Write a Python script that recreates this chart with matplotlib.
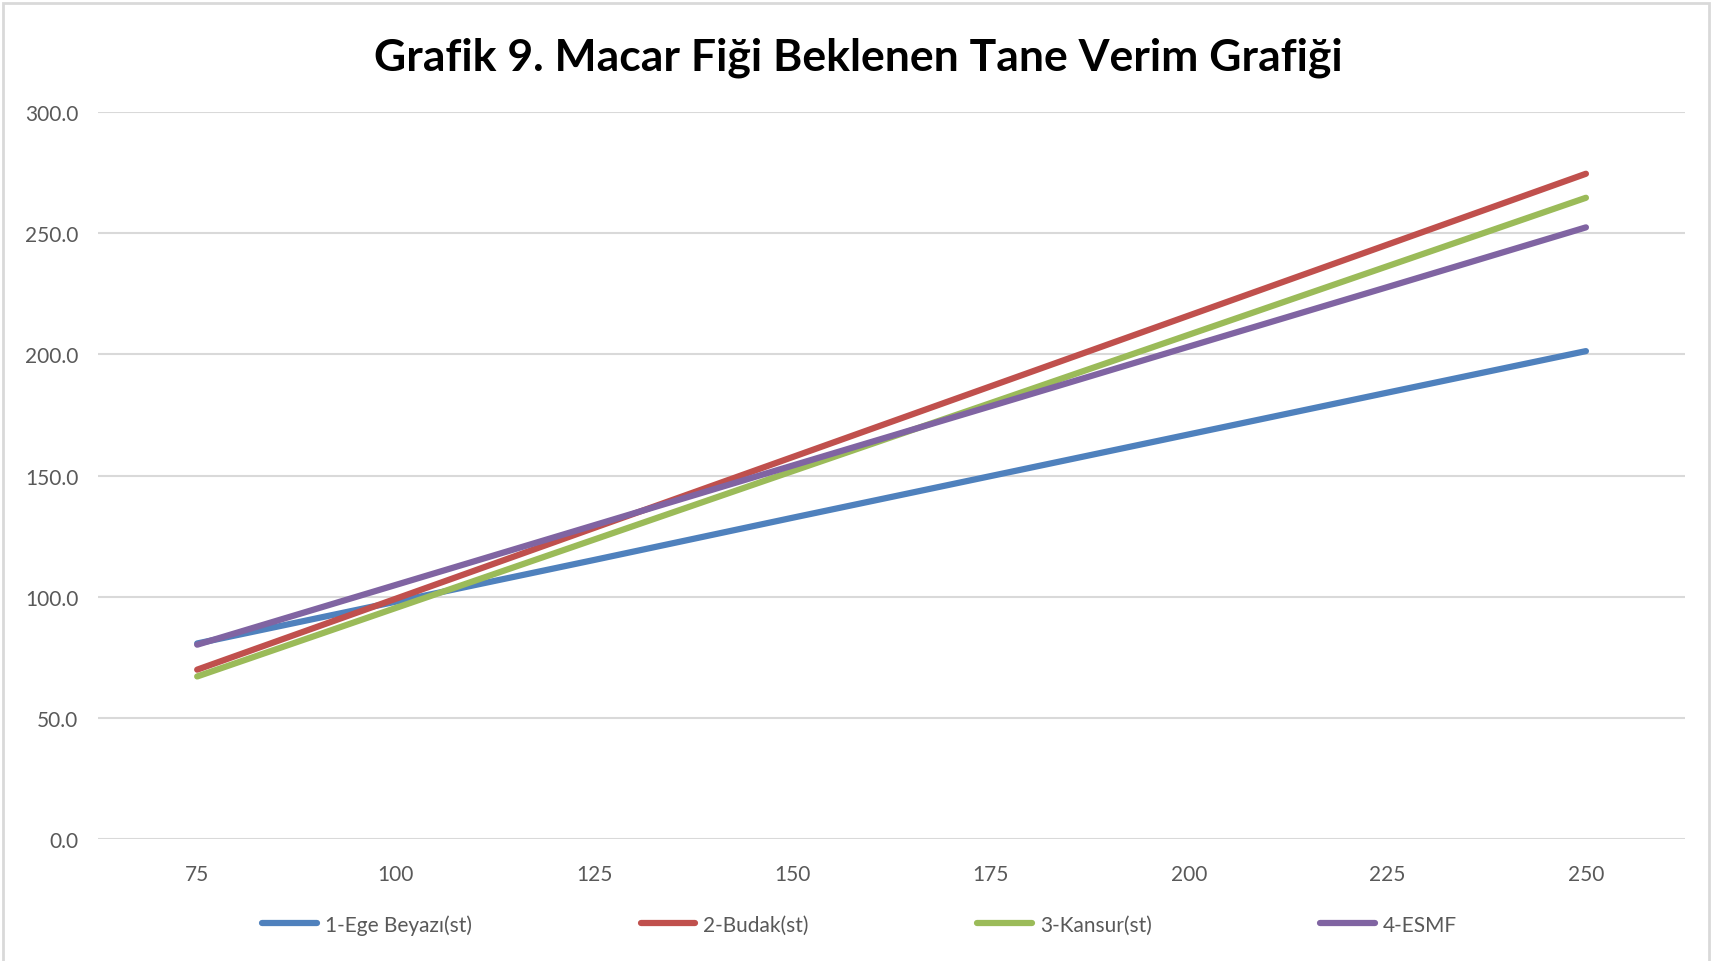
import matplotlib.pyplot as plt
from matplotlib.patches import Rectangle

# seeding rates (x categories) and expected grain yield per variety
doses = [75, 100, 125, 150, 175, 200, 225, 250]
ege_beyazi = [80.8, 98.0, 115.2, 132.6, 149.8, 167.0, 184.2, 201.3]
budak = [70.0, 99.2, 128.4, 157.6, 186.8, 216.0, 245.2, 274.4]
kansur = [67.2, 95.4, 123.6, 151.8, 179.9, 208.1, 236.3, 264.5]
esmf = [80.3, 104.9, 129.5, 154.1, 178.6, 203.2, 227.7, 252.3]

series_names = ['1-Ege Beyazı(st)', '2-Budak(st)', '3-Kansur(st)', '4-ESMF']
series_values = [ege_beyazi, budak, kansur, esmf]
colors = ['#4F81BD', '#C0504D', '#9BBB59', '#8064A2']
y_ticks = [0, 50, 100, 150, 200, 250, 300]

plt.rcParams['font.family'] = ['Lato', 'DejaVu Sans']

fig = plt.figure(figsize=(17.16, 9.62), dpi=100)
ax = fig.add_axes([0.0571, 0.1263, 0.9249, 0.7566])

for name, vals, c in zip(series_names, series_values, colors):
    ax.plot(doses, vals, color=c, lw=4.5, solid_capstyle='round', label=name)

ax.set_xlim(doses[0] - 12.5, doses[-1] + 12.5)
ax.set_ylim(0, 300)
ax.set_xticks(doses)
ax.set_xticklabels([str(d) for d in doses])
ax.set_yticks(y_ticks)
ax.set_yticklabels([f'{v:.1f}' for v in y_ticks])
ax.grid(axis='y', color='#d9d9d9', lw=1.5)
ax.set_axisbelow(True)
for s in ax.spines.values():
    s.set_visible(False)
ax.tick_params(length=0, labelsize=15, labelcolor='#595959')
ax.tick_params(axis='x', pad=18)
ax.tick_params(axis='y', pad=14)

fig.text(0.5, 0.94, 'Grafik 9. Macar Fiği Beklenen Tane Verim Grafiği',
         ha='center', va='center', fontsize=32, fontweight='bold')

fig.legend(loc='center', bbox_to_anchor=(0.501, 0.038), ncol=4, frameon=False,
           fontsize=15, labelcolor='#595959', handlelength=2.6,
           handletextpad=0.4, columnspacing=8.1)

fig.add_artist(Rectangle((0.002, -0.01), 0.994, 1.006, transform=fig.transFigure,
                         fill=False, edgecolor='#d9d9d9', lw=2))

fig.savefig('out.png', dpi=100)
plt.close('all')
